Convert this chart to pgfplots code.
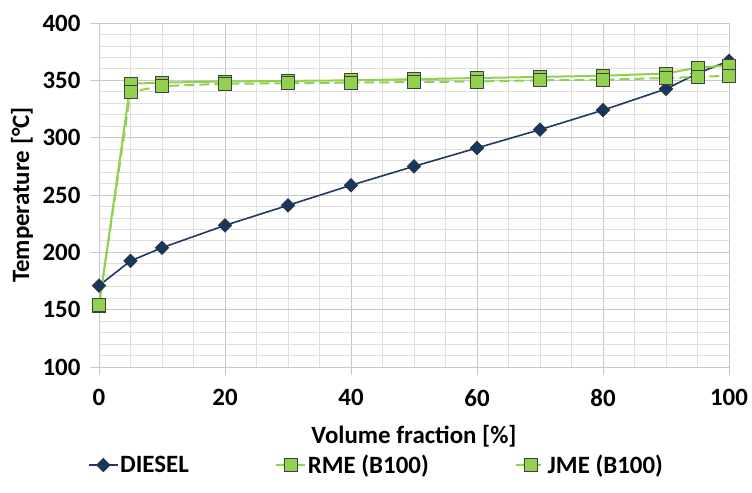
\documentclass[border=0pt]{standalone}
\usepackage{pgfplots}
\pgfplotsset{compat=1.18}
\usepackage{fontspec}
\setmainfont{Carlito}
\definecolor{navyL}{RGB}{31,56,100}
\definecolor{navyF}{RGB}{23,55,94}
\definecolor{grn}{RGB}{146,208,80}
\definecolor{gridmaj}{RGB}{200,200,200}
\definecolor{gridmin}{RGB}{222,222,222}
\newcommand{\bigfont}{\fontsize{25}{28}\selectfont\bfseries}
\begin{document}
\begin{tikzpicture}
\begin{axis}[
  at={(0,0)}, anchor=south west,
  scale only axis, width=630bp, height=344bp,
  xmin=0, xmax=100, ymin=100, ymax=400,
  xtick={0,20,...,100}, ytick={100,150,...,400},
  minor x tick num=3, minor y tick num=4,
  grid=both,
  major grid style={draw=gridmaj, line width=0.8bp},
  minor grid style={draw=gridmin, line width=0.8bp},
  axis line style={draw=gridmaj, line width=0.8bp},
  tick style={draw=gridmaj, line width=0.8bp},
  major tick length=8bp, minor tick length=0pt,
  tick align=outside,
  xtick pos=bottom, ytick pos=left,
  xticklabel={\bigfont\pgfmathprintnumber[assume math mode=true]{\tick}},
  yticklabel={\bigfont\pgfmathprintnumber[assume math mode=true]{\tick}},
  xticklabel style={yshift=-11bp},
  yticklabel style={xshift=-7bp},
  label style={font=\bigfont},
  xlabel={Volume fraction [\%]},
  xlabel style={at={(axis description cs:0.5,-0.2006)}, anchor=center},
  ylabel={Temperature [°C]},
  ylabel style={at={(axis description cs:-0.1222,0.5)}, anchor=center},
  legend columns=3,
  legend style={draw=none, fill=none, font=\bigfont,
    at={(axis description cs:0.44,-0.285)}, anchor=center,
    nodes={inner xsep=1.5bp},
    /tikz/every even column/.append style={column sep=85bp},
    inner sep=0pt},
  legend cell align=left,
  legend image code/.code={\draw[mark repeat=2,mark phase=2,#1] plot coordinates {(0bp,0bp)(14.5bp,0bp)(29bp,0bp)};},
]
\addplot[color=navyL, line width=1.6bp, mark=square*, mark size=4.8bp,
  mark options={rotate=45, fill=navyF, draw=black!80, line width=0.6bp, solid}]
  coordinates {(0,171) (5,192.5) (10,204) (20,223.5) (30,241) (40,258.5) (50,275) (60,291) (70,307) (80,324) (90,342.5) (95,356) (100,367)};
\addlegendentry{DIESEL}
\addplot[color=grn, line width=2bp, mark=square*, mark size=6.5bp,
  mark options={fill=grn, draw=black!75, line width=0.8bp, solid}]
  coordinates {(0,153) (5,347) (10,348) (20,349) (30,349.5) (40,350) (50,351) (60,352) (70,353) (80,354) (90,356) (95,361) (100,363)};
\addlegendentry{RME (B100)}
\addplot[color=grn, line width=2bp, dash pattern=on 10bp off 5bp, mark=square*, mark size=6.5bp,
  mark options={fill=grn, draw=black!75, line width=0.8bp, solid}]
  coordinates {(0,154) (5,340) (10,345) (20,347) (30,347.5) (40,348) (50,348.5) (60,349) (70,350) (80,350.5) (90,352) (95,353) (100,354)};
\addlegendentry{JME (B100)}
\end{axis}
\pgfresetboundingbox
\path[use as bounding box] (-99bp,-126bp) rectangle (653bp,367bp);
\end{tikzpicture}
\end{document}
